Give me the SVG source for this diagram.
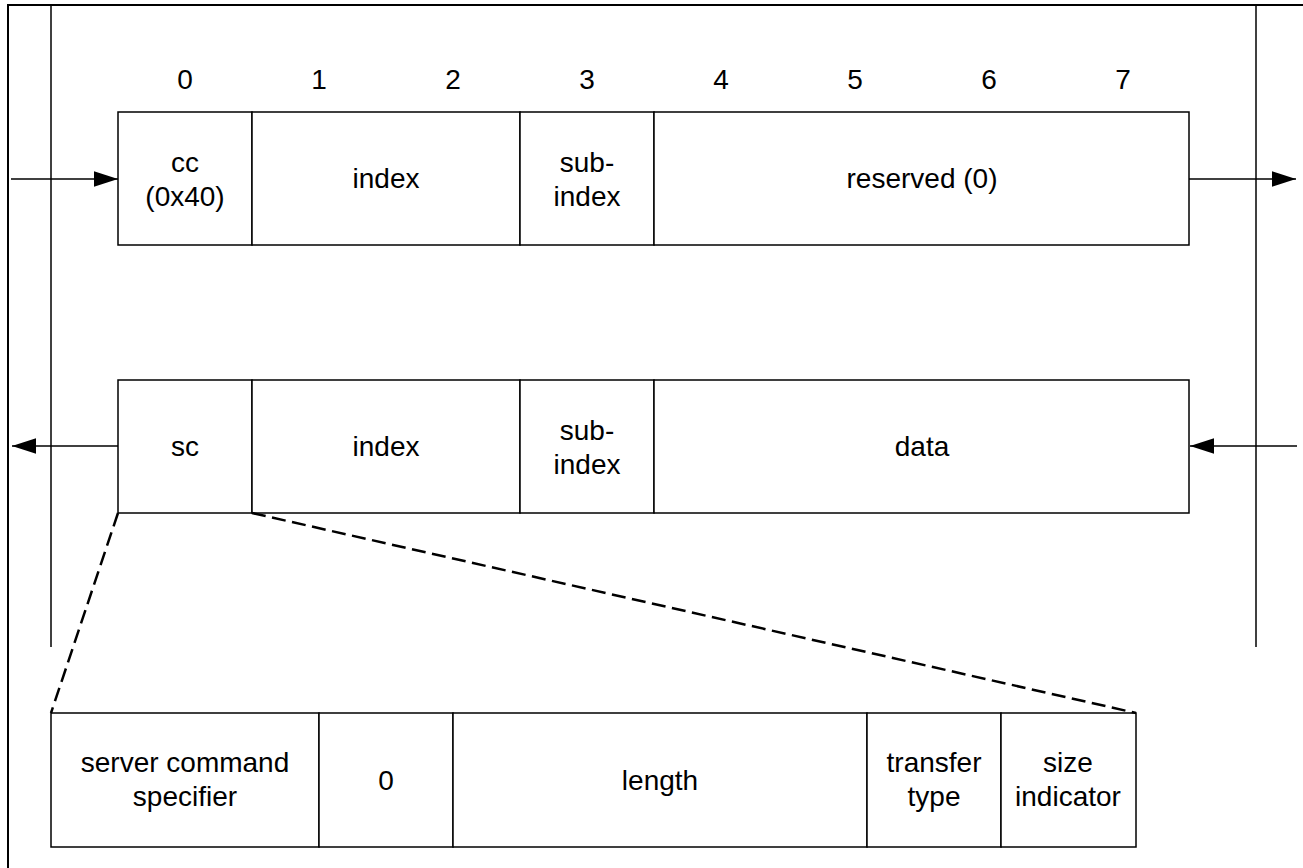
<svg xmlns="http://www.w3.org/2000/svg" width="1303" height="868" viewBox="0 0 1303 868">
  <style>
    .box { fill: #ffffff; stroke: #000000; stroke-width: 1.5; }
    .ln { fill: none; stroke: #000000; stroke-width: 1.5; }
    .frame { fill: none; stroke: #000000; stroke-width: 2; }
    .dash { fill: none; stroke: #000000; stroke-width: 2.5; stroke-dasharray: 14 6.5; }
    text { font-family: "Liberation Sans", Arial, sans-serif; font-size: 28px; fill: #000000; text-anchor: middle; }
  </style>
  <defs>
    <marker id="ah" markerUnits="userSpaceOnUse" markerWidth="24" markerHeight="16" viewBox="0 0 22 14" refX="22" refY="7" orient="auto">
      <polygon points="0,0 22,7 0,14" fill="#000000"/>
    </marker>
  </defs>
  <rect width="1303" height="868" fill="#ffffff"/>

  <g id="frame">
    <path class="frame" d="M8,868 V5 H1303"/>
  </g>

  <g id="lifelines">
    <line class="ln" x1="51" y1="5" x2="51" y2="647"/>
    <line class="ln" x1="1256" y1="5" x2="1256" y2="647"/>
  </g>

  <g id="byte-numbers">
    <text x="185" y="89">0</text>
    <text x="319" y="89">1</text>
    <text x="453" y="89">2</text>
    <text x="587" y="89">3</text>
    <text x="721" y="89">4</text>
    <text x="855" y="89">5</text>
    <text x="989" y="89">6</text>
    <text x="1123" y="89">7</text>
  </g>

  <g id="req-cc">
    <rect class="box" x="118" y="112" width="134" height="133"/>
    <text x="185" y="172">cc</text>
    <text x="185" y="206">(0x40)</text>
  </g>
  <g id="req-index">
    <rect class="box" x="252" y="112" width="268" height="133"/>
    <text x="386" y="188">index</text>
  </g>
  <g id="req-subindex">
    <rect class="box" x="520" y="112" width="134" height="133"/>
    <text x="587" y="172">sub-</text>
    <text x="587" y="206">index</text>
  </g>
  <g id="req-reserved">
    <rect class="box" x="654" y="112" width="535" height="133"/>
    <text x="922" y="188">reserved (0)</text>
  </g>

  <g id="resp-sc">
    <rect class="box" x="118" y="380" width="134" height="133"/>
    <text x="185" y="456">sc</text>
  </g>
  <g id="resp-index">
    <rect class="box" x="252" y="380" width="268" height="133"/>
    <text x="386" y="456">index</text>
  </g>
  <g id="resp-subindex">
    <rect class="box" x="520" y="380" width="134" height="133"/>
    <text x="587" y="440">sub-</text>
    <text x="587" y="474">index</text>
  </g>
  <g id="resp-data">
    <rect class="box" x="654" y="380" width="535" height="133"/>
    <text x="922" y="456">data</text>
  </g>

  <g id="detail-scs">
    <rect class="box" x="51" y="713" width="268" height="134"/>
    <text x="185" y="772">server command</text>
    <text x="185" y="806">specifier</text>
  </g>
  <g id="detail-zero">
    <rect class="box" x="319" y="713" width="134" height="134"/>
    <text x="386" y="790">0</text>
  </g>
  <g id="detail-length">
    <rect class="box" x="453" y="713" width="414" height="134"/>
    <text x="660" y="790">length</text>
  </g>
  <g id="detail-transfer">
    <rect class="box" x="867" y="713" width="134" height="134"/>
    <text x="934" y="772">transfer</text>
    <text x="934" y="806">type</text>
  </g>
  <g id="detail-size">
    <rect class="box" x="1001" y="713" width="135" height="134"/>
    <text x="1068" y="772">size</text>
    <text x="1068" y="806">indicator</text>
  </g>

  <g id="connectors">
    <line class="ln" x1="11" y1="179" x2="118" y2="179" marker-end="url(#ah)"/>
    <line class="ln" x1="1189" y1="179" x2="1296" y2="179" marker-end="url(#ah)"/>
    <line class="ln" x1="118" y1="446" x2="12" y2="446" marker-end="url(#ah)"/>
    <line class="ln" x1="1297" y1="446" x2="1190" y2="446" marker-end="url(#ah)"/>
    <line class="dash" x1="118" y1="513" x2="51" y2="713"/>
    <line class="dash" x1="252" y1="513" x2="1136" y2="713"/>
  </g>
</svg>
